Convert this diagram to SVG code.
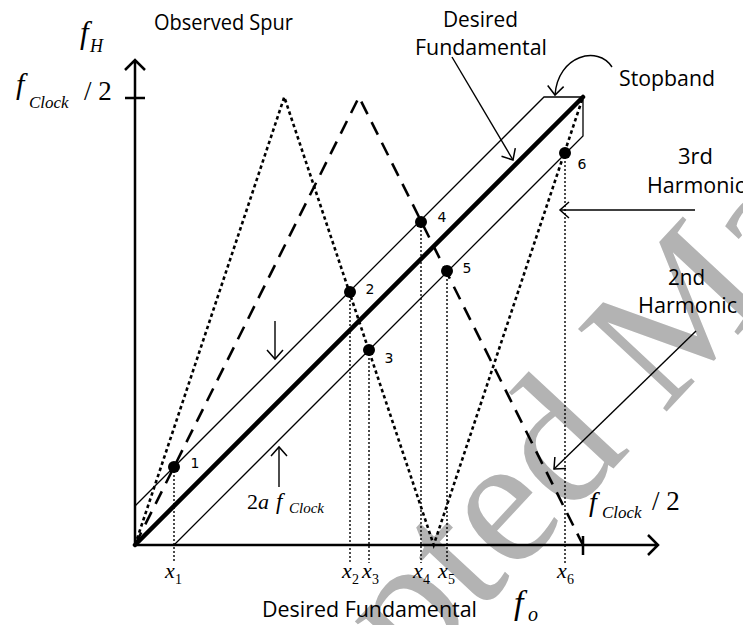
<svg xmlns="http://www.w3.org/2000/svg" width="743" height="625" viewBox="0 0 743 625">
<style>
.lbl{font-family:"Open Sans","Noto Sans",sans-serif;font-size:22px;fill:#000}
.num{font-family:"DejaVu Sans",sans-serif;font-size:14px;fill:#000;text-anchor:middle}
.m{font-family:"Liberation Serif",serif;font-style:italic;fill:#000}
.mu{font-family:"Liberation Serif",serif;fill:#000}
.axis{stroke:#000;stroke-width:2.5;fill:none}
.band{stroke:#000;stroke-width:1.3;fill:none}
.main{stroke:#000;stroke-width:4.5;fill:none;stroke-linecap:round}
.h3{stroke:#000;stroke-width:2.6;fill:none;stroke-dasharray:3.5 3}
.h2{stroke:#000;stroke-width:2.6;fill:none;stroke-dasharray:14 9}
.vd{stroke:#000;stroke-width:1.4;fill:none;stroke-dasharray:2 2}
.ptr{stroke:#000;stroke-width:1.4;fill:none;marker-end:url(#oa)}
.wm{font-family:"Liberation Serif",serif;font-size:185px;fill:#b3b3b3}
</style>
<defs>
<marker id="oa" viewBox="-12 -12 14 24" refX="0" refY="0" markerWidth="14" markerHeight="24" markerUnits="userSpaceOnUse" orient="auto">
<path d="M-9,-8 L0,0 L-9,8" fill="none" stroke="#000" stroke-width="1.5"/>
</marker>
</defs>
<rect width="743" height="625" fill="#fff"/>
<g id="watermark">
<text class="wm" transform="translate(477,615) rotate(-47)" x="-472" y="0">Accepted Manuscript</text>
</g>
<g id="axes">
<path class="axis" d="M135,545 V60 M125,70 L135,60 L145,70 M125,98 H145"/>
<path class="axis" d="M135,545 H658 M648,535 L658,545 L648,555 M583,536 V555"/>
</g>
<g id="connectors">
<path class="band" d="M135,506 L544,97 H583 V136 L174,545"/>
<path class="main" d="M135,545 L583,97"/>
<path class="h3" d="M135,545 L284.3,97 L433.7,545 L583,97"/>
<path class="h2" d="M135,545 L359,97 L583,545"/>
<path class="vd" d="M174,467 V563 M350,292 V563 M369,350 V563 M421,222 V563 M447,271 V563 M565,153 V563"/>
<path class="ptr" d="M452,57 L513,160"/>
<path class="ptr" d="M612,67 C598,45 558,55 555,95"/>
<path class="ptr" d="M695,210 H560"/>
<path class="ptr" d="M696,331 L554,469"/>
<path class="ptr" d="M275,321 V359"/>
<path class="ptr" d="M279,487 V447"/>
</g>
<g id="points">
<circle cx="174" cy="467" r="6"/>
<circle cx="350" cy="292" r="6"/>
<circle cx="369" cy="350" r="6"/>
<circle cx="421" cy="222" r="6"/>
<circle cx="447" cy="271" r="6"/>
<circle cx="565" cy="153" r="6"/>
<text class="num" x="195" y="468">1</text>
<text class="num" x="370" y="294">2</text>
<text class="num" x="389" y="363">3</text>
<text class="num" x="442" y="222">4</text>
<text class="num" x="467" y="273">5</text>
<text class="num" x="582" y="169">6</text>
</g>
<g id="labels">
<text class="lbl" x="154" y="30" textLength="139" lengthAdjust="spacingAndGlyphs">Observed Spur</text>
<text class="lbl" x="443" y="27" textLength="75" lengthAdjust="spacingAndGlyphs">Desired</text>
<text class="lbl" x="415" y="55" textLength="132" lengthAdjust="spacingAndGlyphs">Fundamental</text>
<text class="lbl" x="619" y="86" textLength="96" lengthAdjust="spacingAndGlyphs">Stopband</text>
<text class="lbl" x="678" y="164" textLength="35" lengthAdjust="spacingAndGlyphs">3rd</text>
<text class="lbl" x="647" y="193" textLength="98" lengthAdjust="spacingAndGlyphs">Harmonic</text>
<text class="lbl" x="668" y="285" textLength="37" lengthAdjust="spacingAndGlyphs">2nd</text>
<text class="lbl" x="638" y="313" textLength="99" lengthAdjust="spacingAndGlyphs">Harmonic</text>
<text class="lbl" x="262" y="617" textLength="215" lengthAdjust="spacingAndGlyphs">Desired Fundamental</text>
</g>
<g id="math">
<text class="m" x="80" y="43" font-size="31">f</text>
<text class="m" x="90" y="52" font-size="18">H</text>
<text class="m" x="16" y="94" font-size="30">f</text>
<text class="m" x="29" y="108" font-size="17">Clock</text>
<text class="mu" x="84" y="100" font-size="27">/ 2</text>
<text class="m" x="589" y="511" font-size="28">f</text>
<text class="m" x="602" y="518" font-size="17">Clock</text>
<text class="mu" x="652" y="510" font-size="27">/ 2</text>
<text class="m" x="514" y="614" font-size="34">f</text>
<text class="m" x="528" y="621" font-size="20">o</text>
<text class="mu" x="247" y="509" font-size="22">2<tspan class="m">a</tspan></text>
<text class="m" x="276" y="509" font-size="23">f</text>
<text class="m" x="289" y="513" font-size="15">Clock</text>
<text class="m" x="165" y="578" font-size="22">x</text><text class="mu" x="175" y="584" font-size="14">1</text>
<text class="m" x="342" y="578" font-size="22">x</text><text class="mu" x="352" y="584" font-size="14">2</text>
<text class="m" x="362" y="578" font-size="22">x</text><text class="mu" x="372" y="584" font-size="14">3</text>
<text class="m" x="413" y="578" font-size="22">x</text><text class="mu" x="423" y="584" font-size="14">4</text>
<text class="m" x="438" y="578" font-size="22">x</text><text class="mu" x="448" y="584" font-size="14">5</text>
<text class="m" x="557" y="578" font-size="22">x</text><text class="mu" x="567" y="584" font-size="14">6</text>
</g>
</svg>
